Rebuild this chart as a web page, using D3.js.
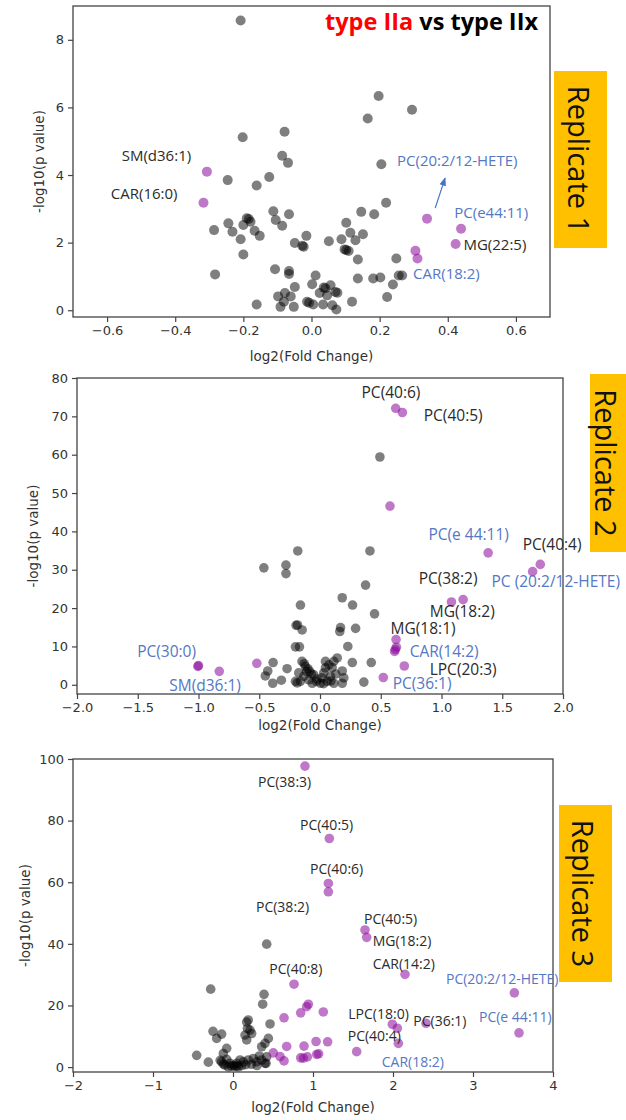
<!DOCTYPE html>
<html><head><meta charset="utf-8">
<script src="https://cdn.jsdelivr.net/npm/d3@7"></script>
<style>body{margin:0;background:#fff}</style>
</head><body>
<svg id="c" width="626" height="1120" xmlns="http://www.w3.org/2000/svg"></svg>
<script>
// ---------------- DATA ----------------
const titleParts = ["type IIa", " vs type IIx"];
const replicateNames = ["Replicate 1", "Replicate 2", "Replicate 3"];
const xAxisTitle = "log2(Fold Change)";
const yAxisTitle = "-log10(p value)";

// Replicate 1
const rep1XTicks = [-0.6,-0.4,-0.2,0,0.2,0.4,0.6];
const rep1YTicks = [0,2,4,6,8];
const rep1Gray = [
[-0.208,8.57],[-0.202,5.12],[-0.079,5.28],[-0.086,4.57],[-0.069,4.36],[-0.124,3.94],[-0.246,3.85],[-0.161,3.69],
[-0.190,2.72],[-0.184,2.70],[-0.179,2.62],[-0.244,2.57],[-0.200,2.52],[-0.232,2.32],[-0.286,2.37],[-0.167,2.35],
[-0.152,2.20],[-0.208,2.10],[-0.200,1.65],[-0.283,1.06],[-0.112,2.93],[-0.066,2.84],[-0.105,2.67],[-0.086,2.50],
[-0.015,2.20],[-0.049,1.99],[-0.027,1.91],[-0.023,1.88],[0.051,2.04],[0.102,2.59],[0.146,2.91],[0.184,2.84],
[0.219,3.18],[0.114,2.29],[0.151,2.25],[0.088,2.10],[0.129,2.07],[0.097,1.80],[0.102,1.78],[0.109,1.75],
[0.136,1.50],[0.249,1.53],[-0.107,1.21],[-0.066,1.16],[-0.066,1.07],[0.012,1.03],[0.002,0.77],[0.036,0.67],
[0.041,0.65],[0.056,0.74],[0.070,0.54],[0.076,0.52],[0.024,0.51],[-0.049,0.69],[-0.078,0.51],[-0.098,0.41],
[-0.061,0.41],[-0.081,0.25],[-0.052,0.10],[-0.091,0.10],[-0.161,0.17],[-0.013,0.25],[-0.007,0.22],[0.005,0.17],
[0.034,0.17],[0.061,0.15],[0.073,0.02],[0.119,0.25],[0.136,0.94],[0.181,0.94],[0.202,0.97],[0.256,1.03],
[0.266,1.03],[0.239,0.76],[0.222,0.39],[0.046,0.44],[0.197,6.34],[0.295,5.93],[0.165,5.67],[0.205,4.32]
];
const rep1Sig = [[-0.307,4.10],[-0.317,3.18],[0.339,2.71],[0.439,2.41],[0.423,1.96],[0.305,1.76],[0.311,1.53]];
const rep1BlueLabels = [["PC(20:2/12-HETE)",0.251,4.44],["PC(e44:11)",0.419,2.90],["CAR(18:2)",0.298,1.10]];
const rep1DarkLabels = [["SM(d36:1)",-0.557,4.59],["CAR(16:0)",-0.589,3.47],["MG(22:5)",0.446,1.96]];
const rep1Arrows = [[0.363,3.02,0.392,3.91]];

// Replicate 2
const rep2XTicks = [-2,-1.5,-1,-0.5,0,0.5,1,1.5,2];
const rep2YTicks = [0,10,20,30,40,50,60,70,80];
const rep2Gray = [
[0.493,59.4],[-0.183,34.9],[-0.462,30.5],[-0.280,31.2],[-0.280,29.0],[0.411,34.9],[0.375,26.0],[0.183,22.7],
[0.268,20.8],[0.449,18.5],[-0.161,20.8],[-0.197,15.5],[-0.185,15.6],[-0.147,14.3],[0.169,14.9],[0.163,13.9],
[0.293,14.7],[-0.202,9.9],[-0.169,9.9],[0.229,10.0],[-0.386,5.8],[-0.271,4.2],[-0.430,3.6],[-0.450,2.3],
[-0.318,1.2],[-0.389,0.4],[-0.188,0.5],[0.266,5.8],[0.422,5.8],[0.361,0.7],[0.183,3.6],[0.196,1.8],[0.183,0.4],
[-0.148,6.1],[-0.120,4.8],[-0.084,3.5],[-0.051,2.6],[-0.023,1.5],[0.004,0.4],[-0.175,3.1],[-0.134,2.2],
[-0.161,0.9],[-0.092,1.3],[-0.064,0.4],[-0.202,0.9],[-0.111,3.5],[0.142,7.0],[0.114,6.1],[0.073,5.2],
[0.045,4.4],[0.031,3.1],[0.018,1.8],[0.059,0.9],[0.087,2.2],[0.114,0.4],[0.045,6.1],[-0.130,5.5],
[-0.100,4.2],[-0.070,2.8],[-0.030,0.9],[0.030,0.3],[0.090,1.0],[0.130,2.8],[0.100,4.5]
];
const rep2Sig = [
[-1.005,4.8],[-1.0,5.0],[-0.829,3.5],[-0.52,5.6],[0.623,72.1],[0.678,71.0],[0.576,46.6],[1.384,34.4],
[1.813,31.4],[1.750,29.5],[1.082,21.6],[1.178,22.2],[0.626,11.8],[0.629,9.8],[0.614,8.7],[0.620,9.2],
[0.694,4.9],[0.521,1.9]
];
const rep2BlueLabels = [["PC(30:0)",-1.505,8.7],["SM(d36:1)",-1.241,0.0],["PC(e 44:11)",0.892,39.4],
  ["PC (20:2/12-HETE)",1.412,27.0],["CAR(14:2)",0.738,8.9],["PC(36:1)",0.598,0.4]];
const rep2DarkLabels = [["PC(40:6)",0.342,76.3],["PC(40:5)",0.854,70.4],["PC(40:4)",1.668,36.6],
  ["PC(38:2)",0.812,27.9],["MG(18:2)",0.903,19.2],["MG(18:1)",0.581,14.8],["LPC(20:3)",0.903,4.2]];

// Replicate 3
const rep3XTicks = [-2,-1,0,1,2,3,4];
const rep3YTicks = [0,20,40,60,80,100];
const rep3Gray = [
[0.421,39.9],[-0.279,25.3],[0.388,23.6],[0.371,20.4],[0.191,15.3],[0.171,14.6],[0.463,14.0],[0.213,12.0],
[0.150,10.4],[0.233,10.9],[0.171,8.8],[0.442,9.3],[0.400,7.7],[0.358,6.6],[0.421,3.3],[0.413,1.2],
[-0.250,11.6],[-0.142,10.7],[-0.204,9.3],[-0.079,6.1],[-0.121,4.4],[-0.454,3.8],[-0.308,1.6],[-0.142,1.7],
[-0.079,2.5],[-0.038,1.2],[0.004,0.6],[0.046,1.2],[0.088,2.3],[0.129,1.7],[0.191,2.3],[0.254,2.8],
[0.296,1.7],[0.358,2.3],[0.400,1.2],[-0.100,0.6],[-0.058,0.1],[0.067,0.1],[0.020,0.2],[-0.020,0.3],
[0.110,0.5],[0.160,0.8],[0.230,0.9],[0.300,0.5],[-0.120,1.0],[0.050,0.4],[0.330,3.6],[0.180,12.5],[-0.160,2.2]
];
const rep3Sig = [
[0.900,97.7],[1.204,74.2],[1.192,59.6],[1.192,56.9],[1.650,44.5],[1.671,42.1],[2.150,30.1],[3.517,24.1],
[3.575,11.1],[2.413,14.2],[1.992,13.9],[2.054,12.6],[2.067,7.7],[1.546,5.0],[0.763,26.9],[0.942,20.4],
[0.921,19.6],[0.846,17.6],[0.638,16.0],[1.129,17.9],[0.671,6.7],[0.888,6.8],[1.038,8.3],[1.183,8.2],
[0.504,4.6],[0.588,3.4],[0.638,2.0],[0.846,3.0],[0.880,2.9],[0.929,3.3],[1.046,4.1],[1.070,4.3]
];
const rep3BlueLabels = [["PC(20:2/12-HETE)",2.6625,28.6],["PC(e 44:11)",3.075,16.3],["CAR(18:2)",1.859,1.7]];
const rep3DarkLabels = [["PC(38:3)",0.3125,92.6],["PC(40:5)",0.8375,78.9],["PC(40:6)",0.9625,64.5],
  ["PC(38:2)",0.2875,52.0],["PC(40:5)",1.6375,48.1],["MG(18:2)",1.746,41.2],["CAR(14:2)",1.746,33.7],
  ["PC(40:8)",0.454,32.0],["LPC(18:0)",1.441,17.4],["PC(36:1)",2.254,15.0],["PC(40:4)",1.434,10.1]];

// ---------------- DRAW ----------------
const svg = d3.select("#c");
const defs = svg.append("defs");
defs.append("marker").attr("id","ah").attr("viewBox","0 0 10 10").attr("refX",9).attr("refY",5)
  .attr("markerWidth",7).attr("markerHeight",7).attr("orient","auto-start-reverse")
  .append("path").attr("d","M0,1 L10,5 L0,9 Z").attr("fill","#4472c4");

const BLUE = "#5577c4", DARK = "#2b2b2b";

const panels = [
  {l:73,r:550,t:6,b:317, xd:[-0.7,0.7], yd:[-0.2,9.0], xt:rep1XTicks, yt:rep1YTicks, xf:d3.format(".1f"), yf:d3.format("d"),
   gray:rep1Gray, sig:rep1Sig, blue:rep1BlueLabels, dark:rep1DarkLabels, arrows:rep1Arrows, lfs:15, rad:5,
   ylx:38.5, xly:356, box:[554,71,53,177], bt:579},
  {l:77,r:563,t:378,b:694, xd:[-2,2], yd:[-2.4,80], xt:rep2XTicks, yt:rep2YTicks, xf:d3.format(".1f"), yf:d3.format("d"),
   gray:rep2Gray, sig:rep2Sig, blue:rep2BlueLabels, dark:rep2DarkLabels, arrows:[], lfs:15.5, rad:4.8,
   ylx:33, xly:725, box:[590,374,60,178], bt:606},
  {l:73,r:553,t:759,b:1072, xd:[-2,4], yd:[-1.6,100], xt:rep3XTicks, yt:rep3YTicks, xf:d3.format("d"), yf:d3.format("d"),
   gray:rep3Gray, sig:rep3Sig, blue:rep3BlueLabels, dark:rep3DarkLabels, arrows:[], lfs:14, rad:4.8,
   ylx:25, xly:1107, box:[559,805,53,177], bt:583}
];

panels.forEach((p,i)=>{
  const x = d3.scaleLinear().domain(p.xd).range([p.l,p.r]);
  const y = d3.scaleLinear().domain(p.yd).range([p.b,p.t]);
  const g = svg.append("g");

  // replicate box
  g.append("rect").attr("x",p.box[0]).attr("y",p.box[1]).attr("width",p.box[2]).attr("height",p.box[3]).attr("fill","#ffc000");
  const cy = p.box[1]+p.box[3]/2;
  g.append("text").attr("transform",`translate(${p.bt},${cy}) rotate(90)`).attr("text-anchor","middle")
    .attr("dominant-baseline","central").attr("font-family","Open Sans").attr("font-size",29).attr("fill","#111")
    .text(replicateNames[i]);

  // axes
  const ax = g.append("g").attr("transform",`translate(0,${p.b})`)
    .call(d3.axisBottom(x).tickValues(p.xt).tickFormat(p.xf).tickSize(5).tickPadding(4));
  const ay = g.append("g").attr("transform",`translate(${p.l},0)`)
    .call(d3.axisLeft(y).tickValues(p.yt).tickFormat(p.yf).tickSize(5).tickPadding(4));
  [ax,ay].forEach(a=>{
    a.select(".domain").remove();
    a.selectAll("line").attr("stroke","#444").attr("stroke-width",1.2);
    a.selectAll("text").attr("font-family","DejaVu Sans").attr("font-size",13).attr("fill","#333");
  });
  // frame
  g.append("rect").attr("x",p.l).attr("y",p.t).attr("width",p.r-p.l).attr("height",p.b-p.t)
    .attr("fill","none").attr("stroke","#444").attr("stroke-width",1.3);

  // axis titles
  g.append("text").attr("x",(p.l+p.r)/2).attr("y",p.xly).attr("text-anchor","middle").attr("dominant-baseline","central")
    .attr("font-family","DejaVu Sans").attr("font-size",13.5).attr("fill","#333").text(xAxisTitle);
  g.append("text").attr("transform",`translate(${p.ylx},${(p.t+p.b)/2}) rotate(-90)`).attr("text-anchor","middle")
    .attr("dominant-baseline","central").attr("font-family","DejaVu Sans").attr("font-size",13.5).attr("fill","#333").text(yAxisTitle);

  // points
  g.append("g").selectAll("circle").data(p.gray).join("circle")
    .attr("cx",d=>x(d[0])).attr("cy",d=>y(d[1])).attr("r",p.rad).attr("fill","#000").attr("fill-opacity",0.5);
  g.append("g").selectAll("circle").data(p.sig).join("circle")
    .attr("cx",d=>x(d[0])).attr("cy",d=>y(d[1])).attr("r",p.rad).attr("fill","#8b0a9a").attr("fill-opacity",0.55);

  // labels
  const lab = (arr,col)=> g.append("g").selectAll("text").data(arr).join("text")
    .attr("x",d=>x(d[1])).attr("y",d=>y(d[2])).attr("dominant-baseline","central")
    .attr("font-family","Open Sans").attr("font-size",p.lfs).attr("fill",col).text(d=>d[0]);
  lab(p.blue,BLUE); lab(p.dark,DARK);

  p.arrows.forEach(a=>{
    g.append("line").attr("x1",x(a[0])).attr("y1",y(a[1])).attr("x2",x(a[2])).attr("y2",y(a[3]))
      .attr("stroke","#4472c4").attr("stroke-width",1.2).attr("marker-end","url(#ah)");
  });

  if(i===0){
    const t = g.append("text").attr("x",325).attr("y",30).attr("font-family","Open Sans").attr("font-weight","bold")
      .attr("font-size",23.5).attr("xml:space","preserve");
    t.append("tspan").attr("fill","#ff0000").text(titleParts[0]);
    t.append("tspan").attr("fill","#000").text(titleParts[1]);
  }
});
</script>
</body></html>
